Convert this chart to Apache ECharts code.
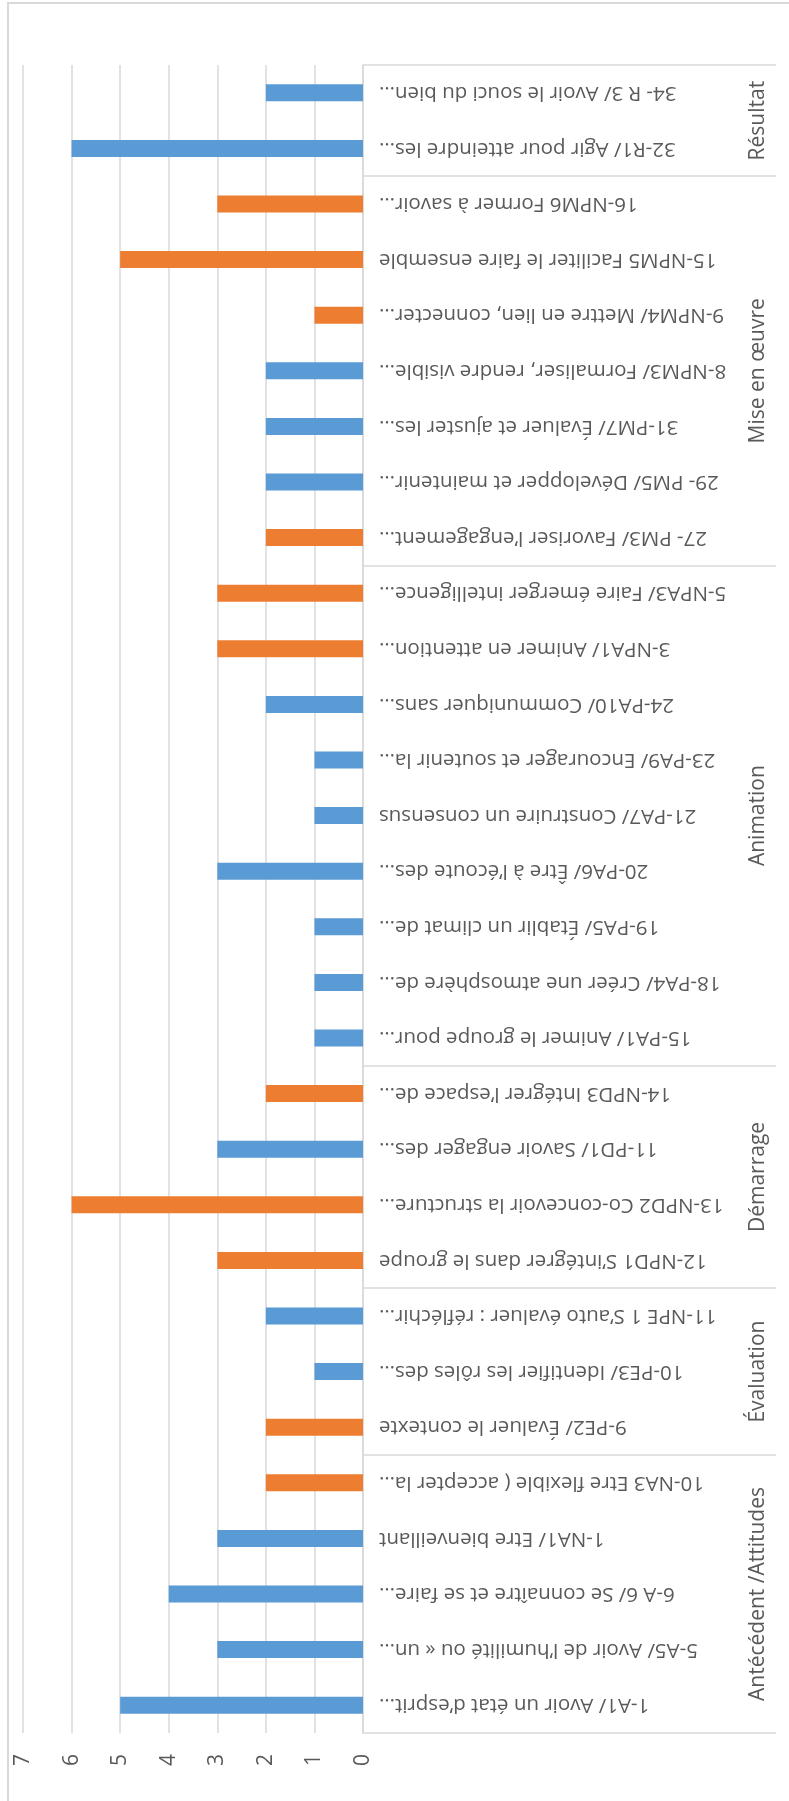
<!DOCTYPE html>
<html>
<head>
<meta charset="utf-8">
<script src="https://cdn.jsdelivr.net/npm/echarts@6/dist/echarts.min.js"></script>
<style>
html,body{margin:0;padding:0;background:#fff;}
#chart{width:789px;height:1801px;}
</style>
</head>
<body>
<div id="chart"></div>
<script>
const categories = [
  "1-A1/ Avoir un état d’esprit…",
  "5-A5/ Avoir de l’humilité ou « un…",
  "6-A 6/ Se connaître et se faire…",
  "1-NA1/ Etre bienveillant",
  "10-NA3 Etre flexible ( accepter la…",
  "9-PE2/ Évaluer le contexte",
  "10-PE3/ Identifier les rôles des…",
  "11-NPE 1 S’auto évaluer : réfléchir…",
  "12-NPD1 S’intégrer dans le groupe",
  "13-NPD2 Co-concevoir la structure…",
  "11-PD1/ Savoir engager des…",
  "14-NPD3 Intégrer l’espace de…",
  "15-PA1/ Animer le groupe pour…",
  "18-PA4/ Créer une atmosphère de…",
  "19-PA5/ Établir un climat de…",
  "20-PA6/ Être à l’écoute des…",
  "21-PA7/ Construire un consensus",
  "23-PA9/ Encourager et soutenir la…",
  "24-PA10/ Communiquer sans…",
  "3-NPA1/ Animer en attention…",
  "5-NPA3/ Faire émerger intelligence…",
  "27- PM3/ Favoriser l’engagement…",
  "29- PM5/ Développer et maintenir…",
  "31-PM7/ Évaluer et ajuster les…",
  "8-NPM3/ Formaliser, rendre visible…",
  "9-NPM4/ Mettre en lien, connecter…",
  "15-NPM5 Faciliter le faire ensemble",
  "16-NPM6 Former à savoir…",
  "32-R1/ Agir pour atteindre les…",
  "34- R 3/ Avoir le souci du bien…"
];
const blueValues = [5,3,4,3,null,null,1,2,null,null,3,null,1,1,1,3,1,1,2,null,null,null,2,2,2,null,null,null,6,2];
const orangeValues = [null,null,null,null,2,2,null,null,3,6,null,2,null,null,null,null,null,null,null,3,3,2,null,null,null,1,5,3,null,null];
const groupNames = ["Antécédent /Attitudes","Évaluation","Démarrage","Animation","Mise en œuvre","Résultat"];
const groupSizes = [5,3,4,9,7,2];
const valueTicks = [0,1,2,3,4,5,6,7];

const groupStarts = [];
const groupCenters = {};
let acc = 0;
groupSizes.forEach((n,i)=>{ groupStarts.push(acc); groupCenters[(acc + n/2).toFixed(1)] = groupNames[i]; acc += n; });

const FONT = 'Open Sans';
const TXT = '#595959';
const GRID = '#D9D9D9';

const chart = echarts.init(document.getElementById('chart'), null, {renderer:'canvas'});
chart.setOption({
  backgroundColor:'#fff',
  animation:false,
  textStyle:{fontFamily:FONT},
  graphic:[{type:'rect',shape:{x:8,y:3,width:820,height:1840},style:{fill:'none',stroke:GRID,lineWidth:2},silent:true}],
  grid:{left:23,right:426,top:65,bottom:68,containLabel:false},
  xAxis:{type:'value',inverse:true,min:0,max:7,interval:1,
    axisLine:{show:false},axisTick:{show:false},
    splitLine:{show:true,lineStyle:{color:GRID,width:1.5}},
    axisLabel:{rotate:90,margin:21,fontSize:21,color:TXT,fontFamily:FONT,
      formatter:v=>valueTicks.includes(v)?String(v):''}},
  yAxis:[
    {type:'category',position:'right',data:categories,
     axisLine:{show:true,lineStyle:{color:GRID,width:1.5}},
     axisTick:{show:true,length:413,lineStyle:{color:GRID,width:1.5},interval:(i)=>groupStarts.includes(i)},
     axisLabel:{interval:0,rotate:180,margin:16,fontSize:20.5,color:TXT,fontFamily:FONT}},
    {type:'value',position:'right',offset:366,min:0,max:categories.length,interval:0.5,
     axisLine:{show:false},axisTick:{show:false},splitLine:{show:false},
     axisLabel:{rotate:90,margin:19,fontSize:21,color:TXT,fontFamily:FONT,
       formatter:v=>groupCenters[v.toFixed(1)]||''}}
  ],
  series:[
    {name:'a',type:'bar',stack:'s',data:blueValues,barWidth:17,itemStyle:{color:'#5B9BD5'}},
    {name:'b',type:'bar',stack:'s',data:orangeValues,barWidth:17,itemStyle:{color:'#ED7D31'}}
  ]
});
</script>
</body>
</html>
